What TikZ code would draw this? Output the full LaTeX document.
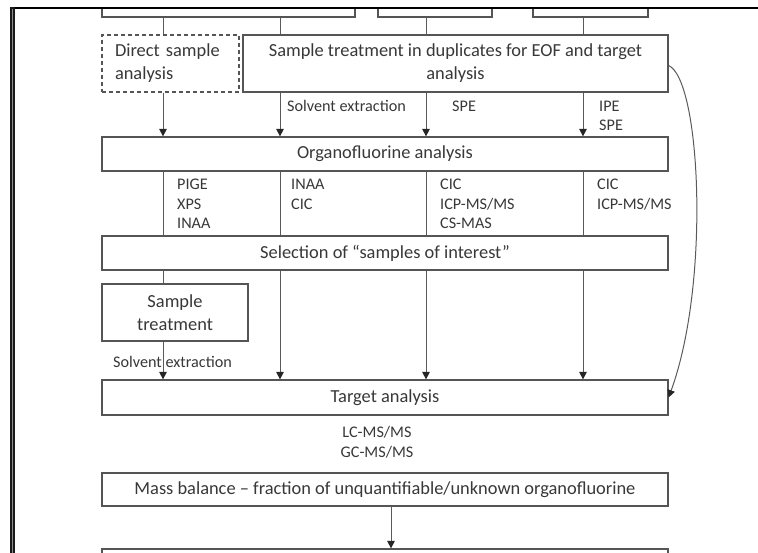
\documentclass[tikz,border=0pt]{standalone}
\usepackage{fontspec}
\setmainfont{Carlito}
\usetikzlibrary{arrows.meta}
\definecolor{boxc}{HTML}{555555}
\definecolor{linec}{HTML}{5A5A5A}
\definecolor{txtc}{HTML}{383838}
\newcommand\bxfont{\fontsize{18.4}{23}\selectfont}
\newcommand\lbfont{\fontsize{16.2}{19.5}\selectfont}
\begin{document}
\begin{tikzpicture}[x=1pt,y=-1pt,
  box/.style={draw=boxc,line width=1.2pt,fill=white,inner sep=0pt,font=\bxfont,text=txtc,align=center},
  lbl/.style={font=\lbfont,text=txtc,inner sep=0pt,anchor=base west},
  conn/.style={draw=linec,line width=1pt},
  arr/.style={conn,-{Triangle[width=7.5pt,length=7.5pt,color=black!85]}}]
\useasboundingbox (0,0) rectangle (758,553);
\clip (0,0) rectangle (758,553);

% columns
\coordinate (c1) at (163,0);
\coordinate (c2) at (280,0);
\coordinate (c3) at (426,0);
\coordinate (c4) at (583,0);
\coordinate (c5) at (391,0);

% partial top boxes
\node[box,minimum width=253pt,minimum height=9.5pt] (t1) at (228.5,12.25) {};
\node[box,minimum width=114pt,minimum height=9.5pt] (t2) at (435,12.25) {};
\node[box,minimum width=115pt,minimum height=9.5pt] (t3) at (590.5,12.25) {};

% boxes
\node[box,dash pattern=on 4pt off 3pt,minimum width=137pt,minimum height=57pt,text width=111pt,align=left] (dsa) at (170.5,63.5) {Direct sample\\analysis};
\node[box,minimum width=425pt,minimum height=57pt] (st) at (455.5,63.5) {Sample treatment in duplicates for EOF and target\\analysis};
\node[box,minimum width=566pt,minimum height=34pt] (of) at (385,154) {Organofluorine analysis};
\node[box,minimum width=566pt,minimum height=34pt] (sel) at (385,253) {Selection of “samples of interest”};
\node[box,minimum width=146pt,minimum height=57pt] (st2) at (175,312.5) {Sample\\treatment};
\node[box,minimum width=566pt,minimum height=35pt] (ta) at (385,397.5) {Target analysis};
\node[box,minimum width=566pt,minimum height=33pt] (mb) at (385,489.5) {Mass balance – fraction of unquantifiable/unknown organofluorine};
\node[box,minimum width=566pt,minimum height=20pt] (bot) at (385,559) {};

% connectors
\draw[conn] (t1.south -| c1) -- (dsa.north -| c1);
\draw[conn] (t1.south -| c2) -- (st.north -| c2);
\draw[conn] (t2.south -| c3) -- (st.north -| c3);
\draw[conn] (t3.south -| c4) -- (st.north -| c4);
\draw[arr] (dsa.south -| c1) -- (of.north -| c1);
\foreach \c in {c2,c3,c4} \draw[arr] (st.south -| \c) -- (of.north -| \c);
\foreach \c in {c1,c2,c3,c4} \draw[conn] (of.south -| \c) -- (sel.north -| \c);
\draw[conn] (sel.south -| c1) -- (st2.north -| c1);
\draw[arr] (st2.south -| c1) -- (ta.north -| c1);
\foreach \c in {c2,c3,c4} \draw[arr] (sel.south -| \c) -- (ta.north -| \c);
\draw[arr] (mb.south -| c5) -- (bot.north -| c5);
\draw[arr] ([yshift=-2pt]st.east) .. controls +(32,14) and +(42,-115) .. (ta.east);

% labels
\node[lbl] (l1) at (287,112) {Solvent extraction};
\node[lbl] (l2) at (452,112) {SPE};
\node[lbl] (l3a) at (599,112) {IPE};
\node[lbl] (l3b) at (599,131) {SPE};
\node[lbl] (p1) at (177,190) {PIGE};
\node[lbl] (p2) at (177,209.5) {XPS};
\node[lbl] (p3) at (177,229) {INAA};
\node[lbl] (q1) at (291,190) {INAA};
\node[lbl] (q2) at (291,209.5) {CIC};
\node[lbl] (r1) at (440,190) {CIC};
\node[lbl] (r2) at (440,209.5) {ICP-MS/MS};
\node[lbl] (r3) at (440,229) {CS-MAS};
\node[lbl] (s1) at (597,190) {CIC};
\node[lbl] (s2) at (597,209.5) {ICP-MS/MS};
\node[lbl,anchor=base] (se) at (172.5,367) {Solvent extraction};
\node[lbl,anchor=base] (lc) at (377,437) {LC-MS/MS};
\node[lbl,anchor=base] (gc) at (377,457) {GC-MS/MS};

% frame
\draw[line width=1.8pt,black] (10,7.8) -- (758,7.8);
\draw[line width=4.5pt,black!90] (12.3,7) -- (12.3,553);
\draw[line width=1pt,black!45] (12.3,9) -- (12.3,553);
\end{tikzpicture}
\end{document}
